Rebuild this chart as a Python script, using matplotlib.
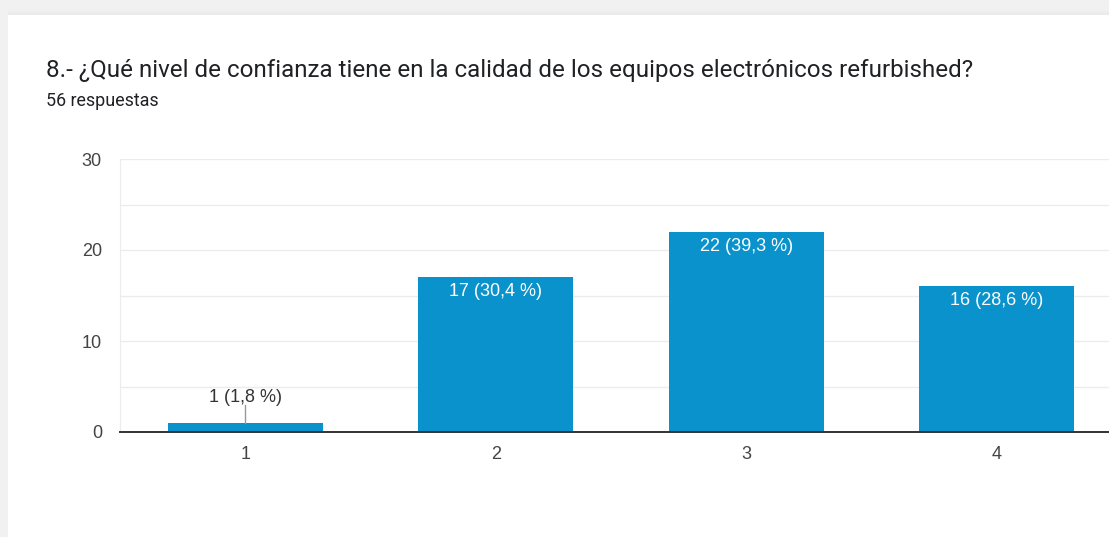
import numpy as np
import matplotlib.pyplot as plt
from matplotlib.ticker import MultipleLocator

# respuestas por nivel de confianza
niveles = ['1', '2', '3', '4']
respuestas = [1, 17, 22, 16]
etiquetas = ['1 (1,8 %)', '17 (30,4 %)', '22 (39,3 %)', '16 (28,6 %)']
total = 56

titulo = '8.- ¿Qué nivel de confianza tiene en la calidad de los equipos electrónicos refurbished?'
subtitulo = f'{total} respuestas'

W, H = 1109, 537
fig = plt.figure(figsize=(W / 100, H / 100), dpi=100)
fig.patch.set_facecolor('white')

# fondo gris con la sombra de la tarjeta
bg = np.ones((H, W))
yy, xx = np.mgrid[0:H, 0:W]
top_edge, left_edge = 15, 8
gray = 0.945
bg[yy < top_edge] = gray
bg[xx < left_edge] = gray
shade = np.clip((top_edge - yy) / 6.0, 0, 1)
band = (yy < top_edge) & (yy >= top_edge - 6) & (xx >= left_edge)
bg[band] = (0.91 + (gray - 0.91) * shade)[band]
bgax = fig.add_axes([0, 0, 1, 1], zorder=-10)
bgax.imshow(bg, cmap='gray', vmin=0, vmax=1, aspect='auto', interpolation='bilinear')
bgax.axis('off')

fig.text(46 / W, 1 - 71 / H, titulo, fontsize=17.4, family='Roboto',
         color='#202124', va='center', ha='left')
fig.text(46 / W, 1 - 101 / H, subtitulo, fontsize=12.9, family='Roboto',
         color='#202124', va='center', ha='left')

x0, y0, x1, y1 = 120, 432, W, 159
ax = fig.add_axes([x0 / W, 1 - y0 / H, (x1 - x0) / W, (y0 - y1) / H])
ax.set_facecolor('none')

pos = np.arange(1, len(niveles) + 1)
ax.bar(pos, respuestas, width=0.62, color='#0992cb', zorder=3)

ax.set_xlim(0.5, 0.5 + (x1 - x0) / 250.5)
ax.set_ylim(0, 30)
ax.yaxis.set_major_locator(MultipleLocator(10))
ax.yaxis.set_minor_locator(MultipleLocator(5))
ax.grid(which='both', axis='y', color='#ececec', linewidth=1.0, zorder=0)
ax.set_xticks(pos)
ax.set_xticklabels(niveles)

for s in ['top', 'right']:
    ax.spines[s].set_visible(False)
ax.spines['left'].set_color('#ececec')
ax.spines['bottom'].set_color('#333333')
ax.spines['bottom'].set_linewidth(1.4)
ax.spines['bottom'].set_zorder(4)
ax.tick_params(axis='both', which='both', length=0, labelsize=13,
               labelcolor='#444444', labelfontfamily='Liberation Sans')
ax.tick_params(axis='y', pad=13)
ax.tick_params(axis='x', pad=10)

for p, v, lab in zip(pos, respuestas, etiquetas):
    if v >= 3:
        ax.text(p, v - 1.6, lab, ha='center', va='center', color='white',
                fontsize=13, family='Liberation Sans', zorder=5)
    else:
        ax.plot([p, p], [v, v + 1.95], color='#999999', linewidth=1, zorder=4)
        ax.text(p, v + 2.75, lab, ha='center', va='center', color='#333333',
                fontsize=13, family='Liberation Sans', zorder=5)

fig.savefig('out.png', dpi=100)
